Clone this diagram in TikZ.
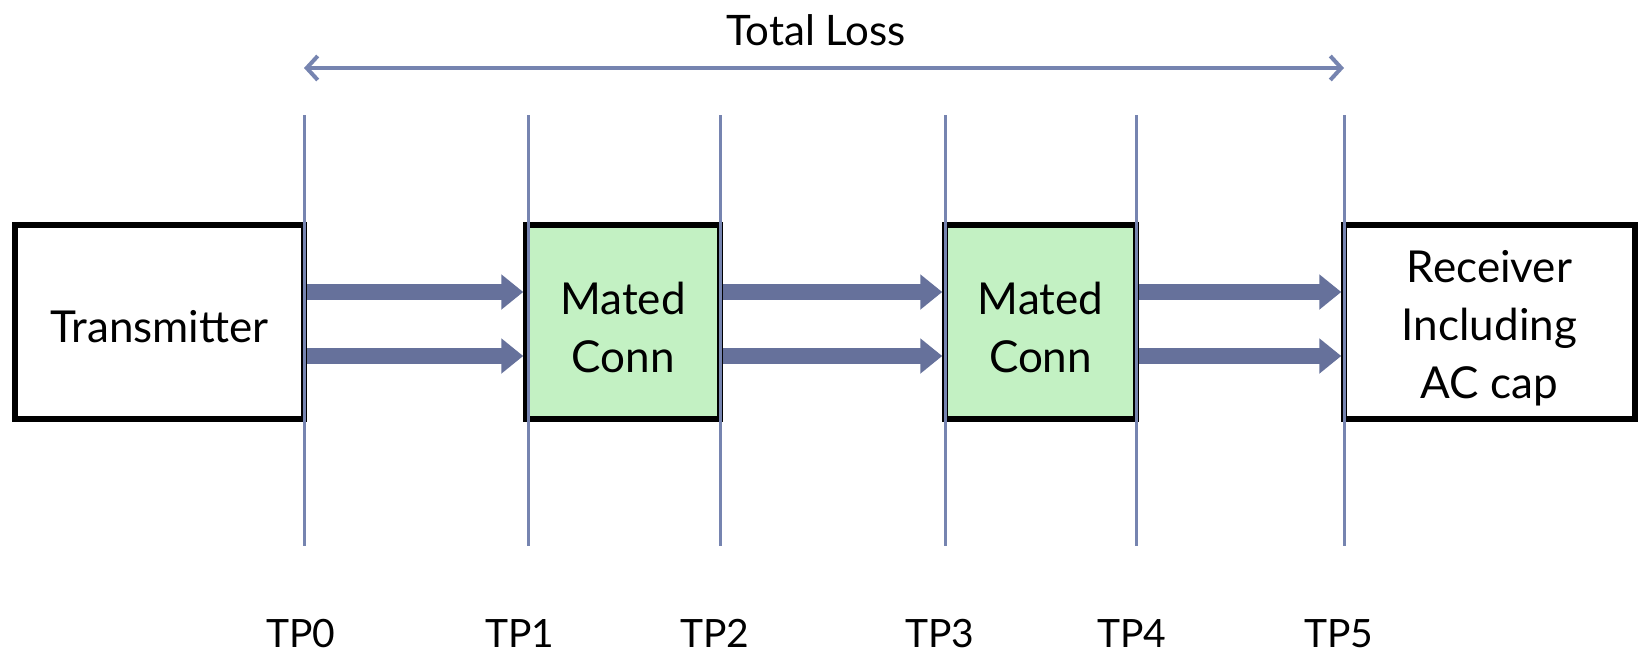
\documentclass[tikz,border=0pt]{standalone}
\usepackage{fontspec}
\setmainfont{Lato}
\usetikzlibrary{arrows.meta,shadows,positioning}
\definecolor{lnblue}{RGB}{118,132,176}
\definecolor{arblue}{RGB}{102,113,155}
\definecolor{mgreen}{RGB}{195,241,195}
\tikzset{
  blk/.style={draw=black, line width=5.5pt, minimum height=194pt, inner sep=0pt,
     drop shadow={shadow xshift=2pt, shadow yshift=-3pt, opacity=0.25, fill=black}},
  conn/.style={blk, fill=mgreen},
  boxtext/.style={align=center, inner sep=0pt, font=\fontsize{44}{58}\selectfont},
  tpline/.style={draw=lnblue, line width=3pt},
  fat/.style={draw=arblue, line width=16pt, -{Triangle[length=22pt,width=34pt]}},
  tplabel/.style={font=\fontsize{39}{42}\selectfont, anchor=base},
  total/.style={draw=lnblue, line width=3.5pt, {Straight Barb[length=11pt,width=24pt,line width=4pt]}-{Straight Barb[length=11pt,width=24pt,line width=4pt]}}
}
\begin{document}
\begin{tikzpicture}[x=1pt,y=-1pt]
\useasboundingbox (0,0) rectangle (1640,653);
% boxes
\node[blk, minimum width=289pt, fill=white] (tx) at (159.5,322) {};
\node[conn, minimum width=194pt] (mc1) at (623,322) {};
\node[conn, minimum width=191pt] (mc2) at (1040.5,322) {};
\node[blk, minimum width=291pt, fill=white] (rx) at (1489.5,322) {};
\node[boxtext] (txt) at ([yshift=-5pt]tx.center) {Transmitter};
\node[boxtext] (mc1t) at ([yshift=-5pt]mc1.center) {Mated\\Conn};
\node[boxtext] (mc2t) at ([yshift=-5pt]mc2.center) {Mated\\Conn};
\node[boxtext] (rxt) at ([yshift=-6pt]rx.center) {Receiver\\Including\\AC cap};
% fat arrows
\foreach \a/\b in {tx/mc1, mc1/mc2, mc2/rx}{
  \draw[fat] ([yshift=30pt]\a.east) -- ([yshift=30pt]\b.west);
  \draw[fat] ([yshift=-34pt]\a.east) -- ([yshift=-34pt]\b.west);
}
% test point lines
\foreach \n/\x in {0/304,1/528,2/720,3/945,4/1136,5/1344}{
  \coordinate (t\n) at (\x,115);
  \coordinate (b\n) at (\x,546);
  \draw[tpline] (t\n) -- (b\n);
}
% labels
\node[tplabel] (l0) at (301,647) {TP0};
\node[tplabel] (l1) at (520,647) {TP1};
\node[tplabel] (l2) at (715,647) {TP2};
\node[tplabel] (l3) at (940,647) {TP3};
\node[tplabel] (l4) at (1132,647) {TP4};
\node[tplabel] (l5) at (1339,647) {TP5};
% total loss
\coordinate (la) at (304,68);
\coordinate (ra) at (1344,68);
\draw[total] (la) -- (ra);
\node[font=\fontsize{42}{46}\selectfont, anchor=base] (tl) at (816,45) {Total Loss};
\end{tikzpicture}
\end{document}
